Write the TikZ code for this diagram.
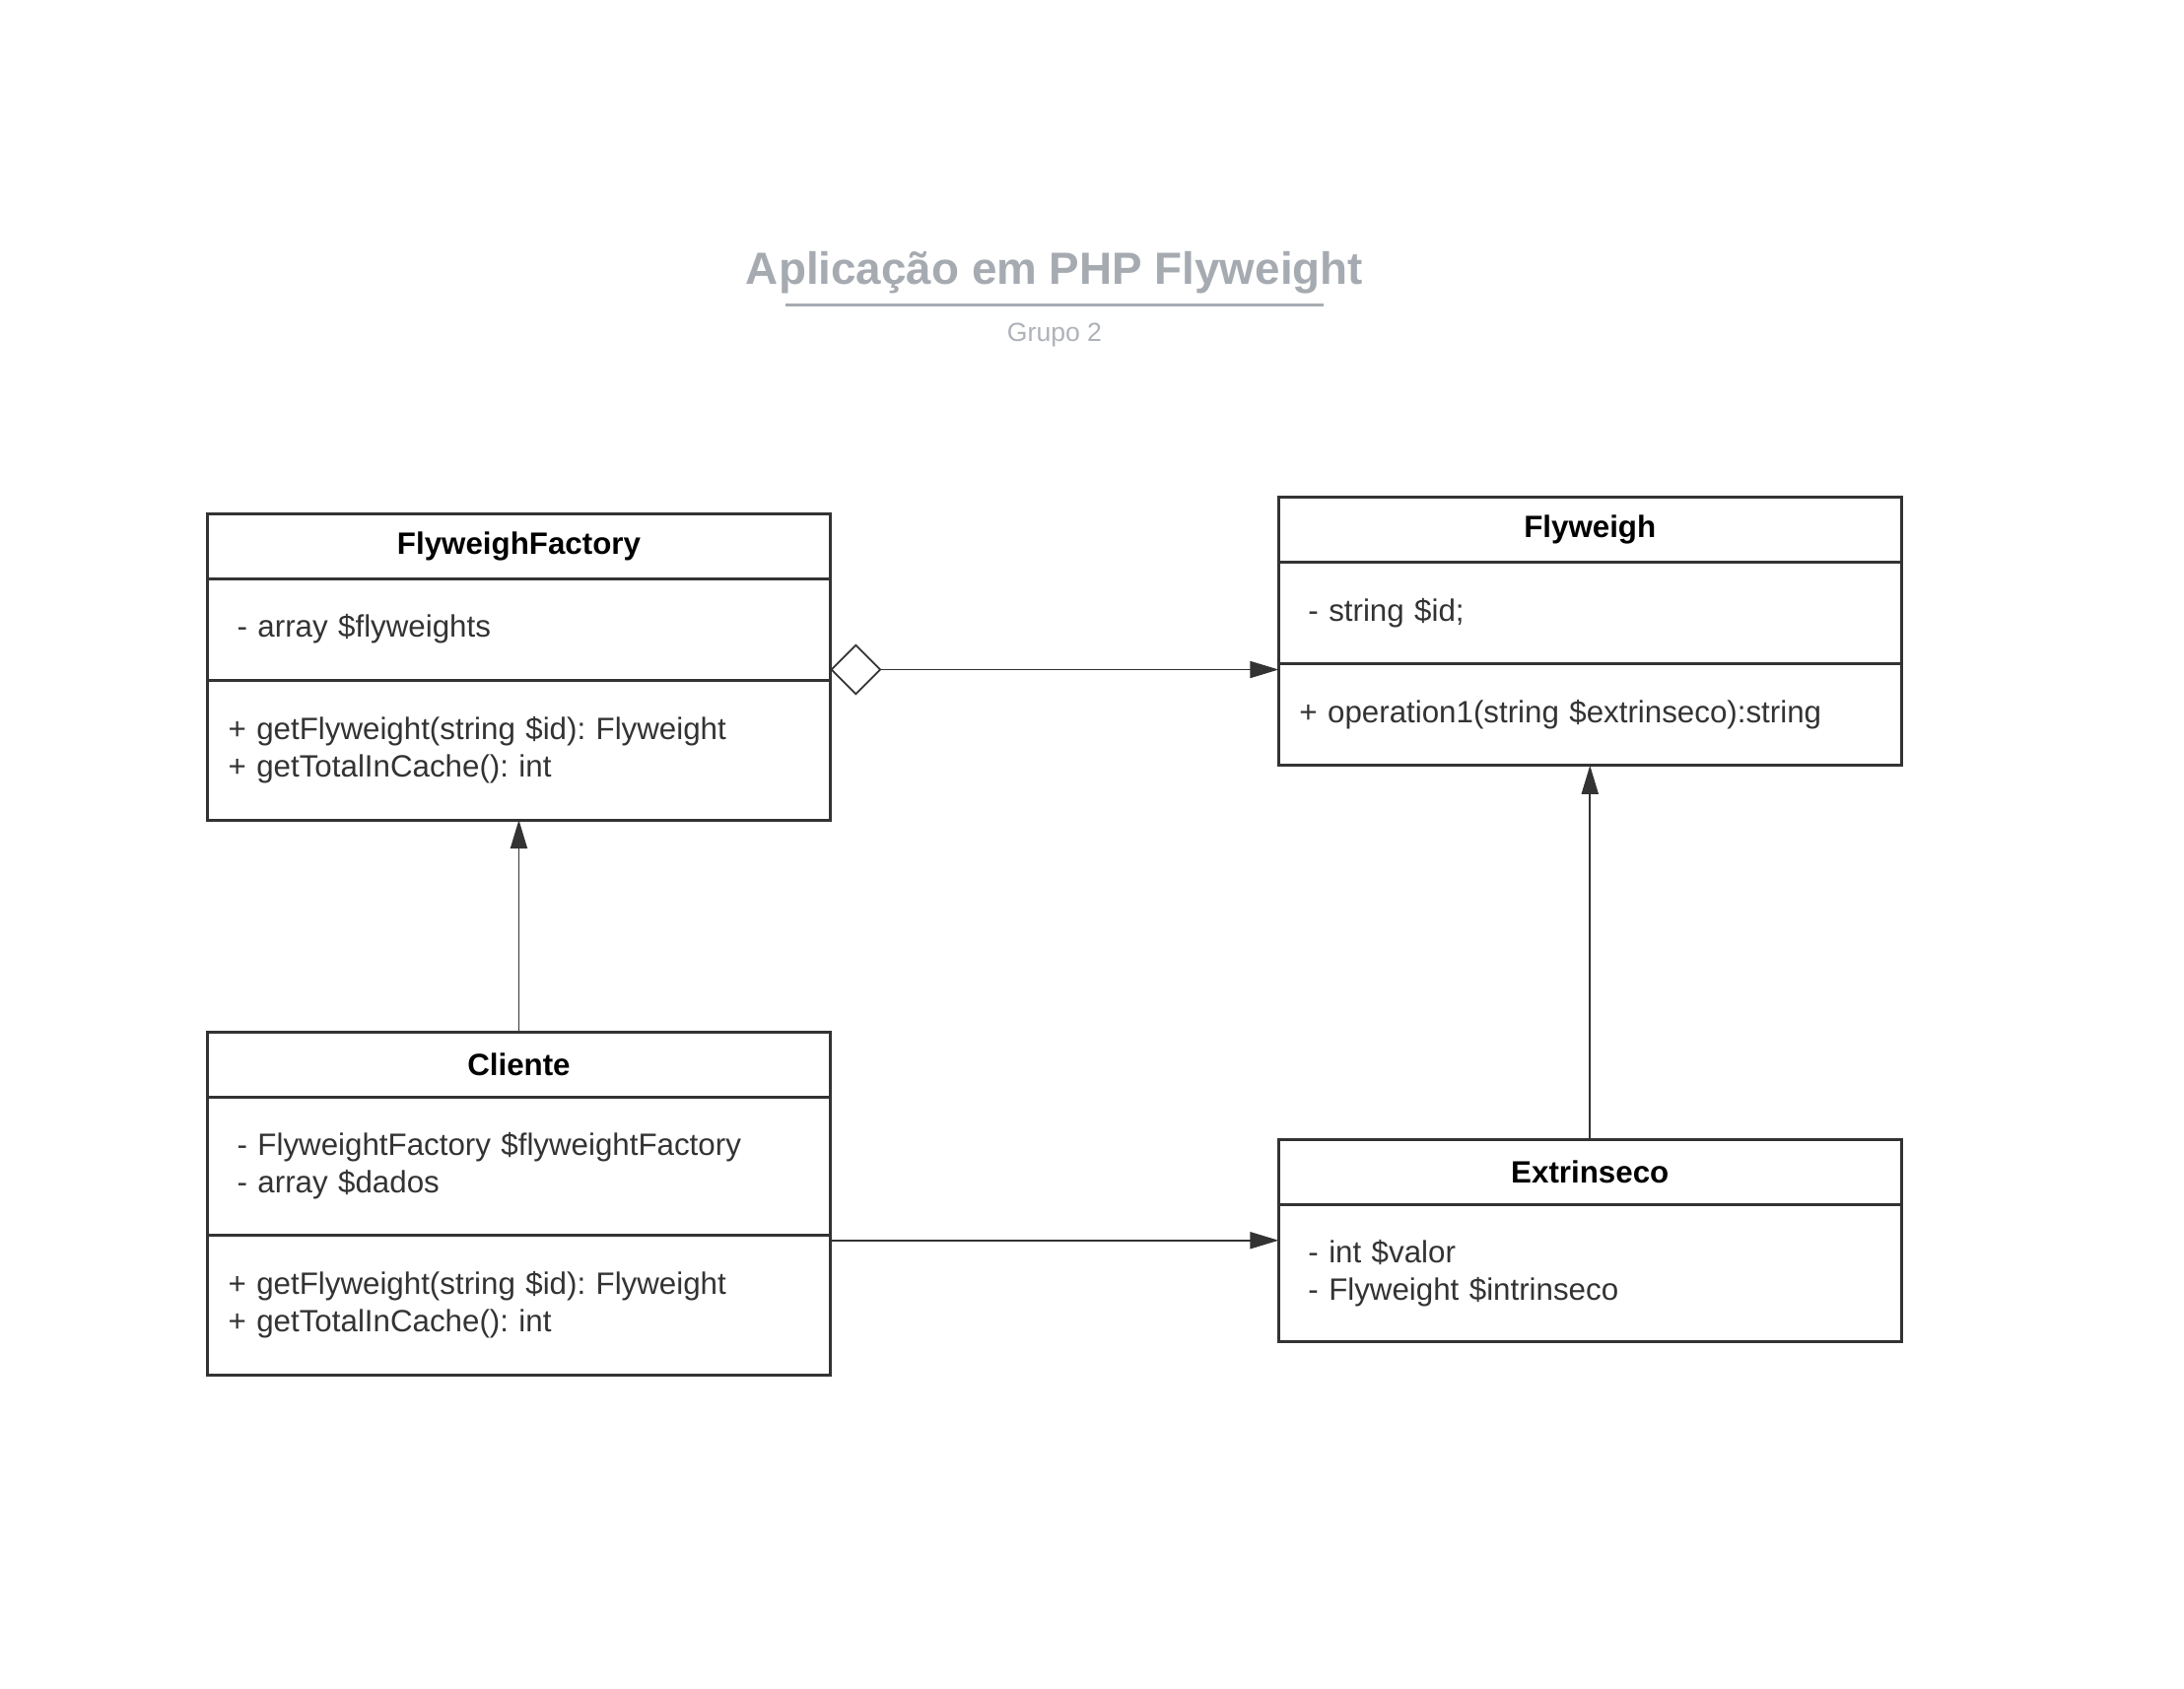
\documentclass[tikz,border=0pt]{standalone}
\usepackage{fontspec}
\setmainfont{Liberation Sans}
\usetikzlibrary{positioning,arrows.meta,fit}

\definecolor{boxgray}{HTML}{333333}
\definecolor{titlegray}{HTML}{A6ABB2}
\definecolor{subgray}{HTML}{AEB2B8}

\frenchspacing

\begin{document}
\begin{tikzpicture}
  [
    x=1pt, y=-1pt,
    head/.style  = {draw=boxgray, line width=3pt, outer sep=0pt, minimum width=631.7pt, minimum height=66pt, font=\fontsize{31.3}{38.2}\selectfont\bfseries},
    attrs/.style = {draw=boxgray, line width=3pt, outer sep=0pt, text width=571.7pt, inner xsep=30pt, align=left, text=boxgray, font=\fontsize{31.3}{38.2}\selectfont},
    meths/.style = {attrs, text width=589.7pt, inner xsep=21pt},
    whole/.style = {fit=#1, inner sep=0pt, outer sep=0pt},
    link/.style  = {draw=boxgray, line width=1.8pt},
    uses/.style  = {link, arrows={-Triangle[length=29pt,width=17pt]}},
    aggr/.style  = {link, arrows={Diamond[open,length=52pt,width=52pt]-Triangle[length=29pt,width=17pt]}},
  ]

\useasboundingbox (0,0) rectangle (2216,1713);

%Title and subtitle
\node[text=titlegray, font=\fontsize{45.8}{50}\selectfont\bfseries, anchor=base] (ttl) at (1070,288) {Aplicação em PHP Flyweight};
\draw[titlegray, line width=3.5pt] (ttl.base) ++(-272.8,21.5) -- ++(545.6,0);
\node[text=subgray, font=\fontsize{26.6}{30}\selectfont, anchor=base] (sub) at (1070,346) {Grupo 2};

%FlyweighFactory
\node[head] (fac) at (526.45,554) {FlyweighFactory};
\node[attrs, minimum height=103pt, below=0pt of fac] (facA) {- array \$flyweights};
\node[meths, minimum height=142pt, below=0pt of facA] (facM) {+ getFlyweight(string \$id): Flyweight\\+ getTotalInCache(): int};

%Flyweigh
\node[head] (fly) at (1613.25,537.75) {Flyweigh};
\node[attrs, minimum height=103pt, below=0pt of fly] (flyA) {- string \$id;};
\node[meths, minimum height=103pt, below=0pt of flyA] (flyM) {+ operation1(string \$extrinseco):string};

%Cliente
\node[head] (cli) at (526.45,1080.5) {Cliente};
\node[attrs, minimum height=140pt, below=0pt of cli] (cliA) {- FlyweightFactory \$flyweightFactory\\- array \$dados};
\node[meths, minimum height=142pt, below=0pt of cliA] (cliM) {+ getFlyweight(string \$id): Flyweight\\+ getTotalInCache(): int};

%Extrinseco
\node[head] (ext) at (1613.25,1189.25) {Extrinseco};
\node[attrs, minimum height=139pt, below=0pt of ext] (extA) {- int \$valor\\- Flyweight \$intrinseco};

%outer frames of the classes
\node[whole=(fac)(facM)] (facBox) {};
\node[whole=(fly)(flyM)] (flyBox) {};
\node[whole=(cli)(cliM)] (cliBox) {};
\node[whole=(ext)(extA)] (extBox) {};

%Relations
\coordinate (aggS) at ([yshift=-3pt]facBox.east);
\draw[aggr] (aggS) -- (aggS -| flyBox.west);
\draw[uses] (cliBox.north) -- (facBox.south);
\draw[uses] (extBox.north) -- (flyBox.south);
\draw[uses] (cliBox.east |- extBox.west) -- (extBox.west);
\end{tikzpicture}
\end{document}
